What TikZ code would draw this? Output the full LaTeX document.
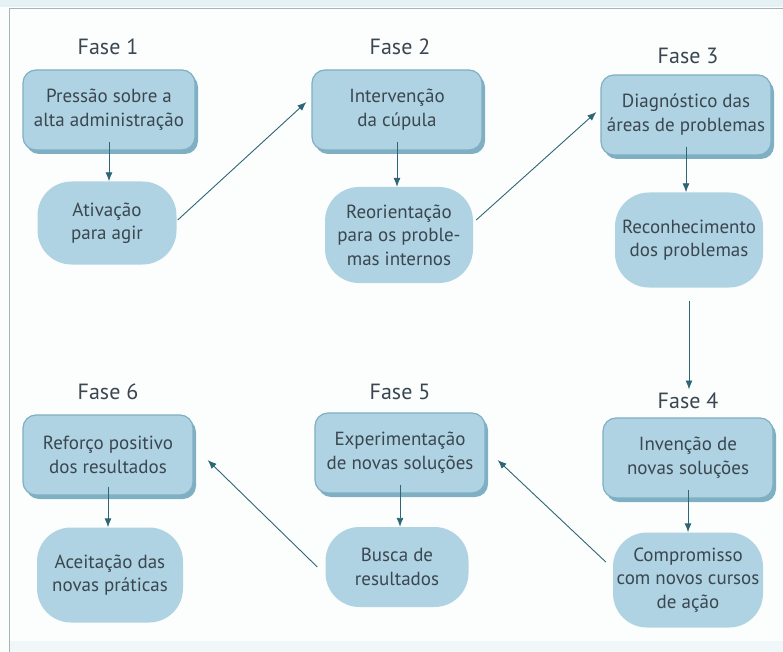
\documentclass[tikz,border=0pt]{standalone}
\usepackage{fontspec}
\setmainfont{PT Sans}
\usetikzlibrary{arrows.meta,shadows}
\definecolor{boxfill}{HTML}{AFD3E2}
\definecolor{boxshade}{HTML}{7FAFC3}
\definecolor{txt}{HTML}{3A4650}
\definecolor{arr}{HTML}{2F6674}
\definecolor{frame}{HTML}{A9B4B8}
\definecolor{band}{HTML}{E4F1F5}
\definecolor{bg}{HTML}{FCFEFE}
\tikzset{
  x=1pt, y=-1pt,
  phase/.style={font=\fontsize{22}{24}\selectfont, text=txt},
  boxnode/.style={rectangle, rounded corners=13pt, fill=boxfill, draw=boxshade, line width=1.2pt,
    minimum width=170pt, minimum height=80pt, align=center, text=txt,
    font=\fontsize{19}{24}\selectfont, inner sep=0pt,
    drop shadow={shadow xshift=3pt, shadow yshift=-4pt, fill=boxshade, opacity=1}},
  blob/.style={rectangle, rounded corners=34pt, fill=boxfill, align=center, text=txt,
    font=\fontsize{19}{23.5}\selectfont, inner sep=0pt},
  conn/.style={draw=arr, line width=0.9pt, -{Latex[length=9pt,width=7pt]}},
}
\begin{document}
\begin{tikzpicture}
\useasboundingbox (0,0) rectangle (783,652);
\fill[bg] (0,0) rectangle (783,652);
\fill[band] (0,0) rectangle (783,7);
\fill[band!60] (10,641) rectangle (783,652);
\draw[frame, line width=1.5pt] (9.5,652) -- (9.5,8.5) -- (783,8.5);

% phase labels
\node[phase] (f1) at (108,47) {Fase 1};
\node[phase] (f2) at (400,47) {Fase 2};
\node[phase] (f3) at (688,56) {Fase 3};
\node[phase] (f4) at (688,401) {Fase 4};
\node[phase] (f5) at (400,392) {Fase 5};
\node[phase] (f6) at (108,392) {Fase 6};

% boxes
\node[boxnode, minimum width=172pt] (b1) at (109,110) {Pressão sobre a\\alta administração};
\node[boxnode] (b2) at (397,110) {Intervenção\\da cúpula};
\node[boxnode] (b3) at (686,115) {Diagnóstico das\\áreas de problemas};
\node[boxnode] (b4) at (688,458) {Invenção de\\novas soluções};
\node[boxnode] (b5) at (400,453) {Experimentação\\de novas soluções};
\node[boxnode] (b6) at (108,455) {Reforço positivo\\dos resultados};

% blobs
\node[blob, minimum width=139pt, minimum height=83pt] (e1) at (107,223) {Ativação\\para agir};
\node[blob, minimum width=148pt, minimum height=96pt] (e2) at (399,235) {Reorientação\\para os proble-\\mas internos};
\node[blob, minimum width=148pt, minimum height=95pt] (e3) at (689,240) {Reconhecimento\\dos problemas};
\node[blob, minimum width=150pt, minimum height=95pt] (e4) at (688,580) {Compromisso\\com novos cursos\\de ação};
\node[blob, minimum width=143pt, minimum height=80pt] (e5) at (397,567) {Busca de\\resultados};
\node[blob, minimum width=146pt, minimum height=95pt] (e6) at (110,575) {Aceitação das\\novas práticas};

% vertical connectors
\draw[conn] ([yshift=9pt]b1.south) -- (b1.south |- e1.north);
\draw[conn] ([yshift=9pt]b2.south) -- (b2.south |- e2.north);
\draw[conn] ([yshift=9pt]b3.south) -- (b3.south |- e3.north);
\draw[conn] ([yshift=-13pt]e3.south) -- (e3.south |- f4.north);
\draw[conn] ([yshift=9pt]b4.south) -- (b4.south |- e4.north);
\draw[conn] ([yshift=9pt]b5.south) -- (b5.south |- e5.north);
\draw[conn] ([yshift=9pt]b6.south) -- (b6.south |- e6.north);

% diagonal connectors
\draw[conn] ([xshift=1pt,yshift=3pt]e1.east) -- ([xshift=-5pt,yshift=8pt]b2.west);
\draw[conn] ([xshift=3pt,yshift=15pt]e2.east) -- ([xshift=-4pt,yshift=3pt]b3.west);
\draw[conn] ([xshift=-7pt,yshift=18pt]e4.west) -- ([xshift=12pt,yshift=-7pt]b5.east);
\draw[conn] ([xshift=-8pt]e5.west) -- ([xshift=14pt,yshift=-5pt]b6.east);
\end{tikzpicture}
\end{document}
